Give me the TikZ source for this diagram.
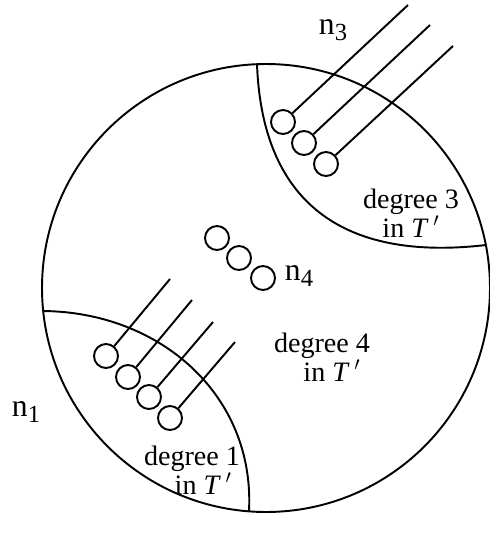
\documentclass[tikz,border=0pt]{standalone}
\usepackage{fontspec}
\setmainfont{Liberation Serif}
\usepackage{tikz}
\usetikzlibrary{calc, positioning}
\newcommand{\nlab}[1]{n\raisebox{-0.45ex}{\fontsize{14}{14}\selectfont #1}}
\newcommand{\inT}{in \textit{T}\,$^{\prime}$}

\begin{document}
\begin{tikzpicture}[
        x=0.02cm, y=-0.02cm,
        line width=1.1pt,
        vtx/.style = {draw, circle, minimum size=0.48cm, inner sep=0pt, line width=1.1pt},
        txt/.style = {align=center, font=\fontsize{16}{16.5}\selectfont, inner sep=0pt},
        lab/.style = {font=\fontsize{18}{18}\selectfont, inner sep=0pt}
    ]
        \useasboundingbox (0,0) rectangle (490,538);

        % Outer disc
        \coordinate (ctr) at (266,288);
        \draw (ctr) circle [radius=224];

        % Region boundaries
        \coordinate (tl) at (257,64);
        \coordinate (tr) at (486,245);
        \coordinate (bl) at (43,311);
        \coordinate (br) at (249,511);
        \draw (tl) .. controls (262,200) and (340,262) .. (tr);
        \draw (bl) .. controls (160,312) and (255,395) .. (br);

        % n3: three stubs leaving upper right
        \node (a1) [vtx] at (283,122) {};
        \node (a2) [vtx] at (304,143) {};
        \node (a3) [vtx] at (326,164) {};
        \coordinate (a1e) at (408,5);
        \coordinate (a2e) at (430,25);
        \coordinate (a3e) at (453,46);
        \draw (a1) -- (a1e);
        \draw (a2) -- (a2e);
        \draw (a3) -- (a3e);

        % n4: three loose vertices
        \node (b1) [vtx] at (217,238) {};
        \node (b2) [vtx] at (239,258) {};
        \node (b3) [vtx] at (263,278) {};

        % n1: four stubs
        \node (d1) [vtx] at (106,356) {};
        \node (d2) [vtx] at (128,377) {};
        \node (d3) [vtx] at (149,397) {};
        \node (d4) [vtx] at (170,418) {};
        \coordinate (d1e) at (170,279);
        \coordinate (d2e) at (192,300);
        \coordinate (d3e) at (213,322);
        \coordinate (d4e) at (235,342);
        \draw (d1) -- (d1e);
        \draw (d2) -- (d2e);
        \draw (d3) -- (d3e);
        \draw (d4) -- (d4e);

        % Labels
        \node (n3) [lab] at (333,30) {\nlab{3}};
        \node (n4) [lab] at (299,276) {\nlab{4}};
        \node (n1) [lab] at (26,412) {\nlab{1}};

        \node (deg3) [txt] at (411,213) {degree 3\\\inT};
        \node (deg4) [txt] at (322,357) {degree 4\\\hspace*{0.4cm}\inT};
        \node (deg1) [txt] at (192,470) {degree 1\\\hspace*{0.45cm}\inT};

    \end{tikzpicture}
\end{document}
